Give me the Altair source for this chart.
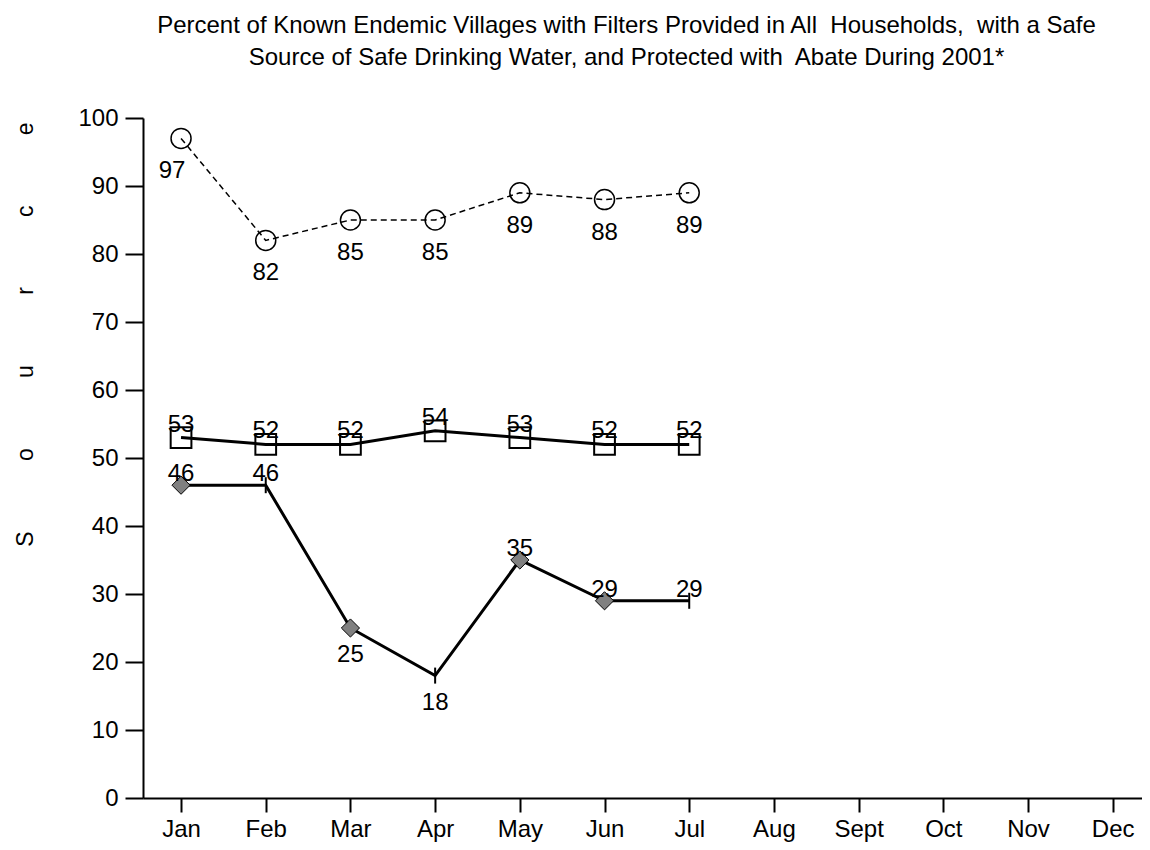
import altair as alt
import pandas as pd

months = ["Jan", "Feb", "Mar", "Apr", "May", "Jun", "Jul", "Aug", "Sept", "Oct", "Nov", "Dec"]
reported = ["Jan", "Feb", "Mar", "Apr", "May", "Jun", "Jul"]

safe_source = [97, 82, 85, 85, 89, 88, 89]      # circles, dashed
filters = [53, 52, 52, 54, 53, 52, 52]          # squares, solid
abate = [46, 46, 25, 18, 35, 29, 29]            # diamonds, solid

abate_diamond_months = ["Jan", "Mar", "May", "Jun"]
abate_tick_months = ["Feb", "Apr", "Jul"]
abate_label_below = ["Mar", "Apr"]

title_lines = [
    "Percent of Known Endemic Villages with Filters Provided in All\u00a0 Households,\u00a0 with a Safe",
    "Source of Safe Drinking Water, and Protected with\u00a0 Abate During 2001*",
]
y_title = ("\u00a0" * 11).join(list("Source"))

rows = []
for i, m in enumerate(reported):
    rows.append({"month": m, "idx": i, "series": "safe", "value": safe_source[i]})
    rows.append({"month": m, "idx": i, "series": "filters", "value": filters[i]})
    rows.append({"month": m, "idx": i, "series": "abate", "value": abate[i]})
df = pd.DataFrame(rows)

FONT = "Liberation Sans"
FS = 24

x_enc = alt.X(
    "month:O",
    scale=alt.Scale(type="point", domain=months, padding=0.3975, align=0.565),
    axis=alt.Axis(
        title=None, labelAngle=0, grid=False, domainColor="black", domainWidth=2,
        tickColor="black", tickWidth=2, tickSize=14, labelFontSize=FS,
        labelColor="black", labelPadding=24, labelBaseline="alphabetic", labelFont=FONT,
    ),
)
y_enc = alt.Y(
    "value:Q",
    scale=alt.Scale(domain=[0, 100], nice=False, zero=True),
    axis=alt.Axis(
        values=list(range(0, 101, 10)), grid=False, domainColor="black", domainWidth=2,
        tickColor="black", tickWidth=2, tickSize=18, labelFontSize=FS,
        labelColor="black", labelPadding=7, labelFont=FONT,
        title=y_title, titleFont=FONT, titleFontSize=23, titleFontWeight="normal",
        titleColor="black", titleAngle=270, titleX=-118, titleY=216,
        titleAlign="center", titleBaseline="middle",
    ),
)

base = alt.Chart(df).encode(x=x_enc, y=y_enc, order=alt.Order("idx:Q"))

safe = base.transform_filter(alt.datum.series == "safe")
filt = base.transform_filter(alt.datum.series == "filters")
ab = base.transform_filter(alt.datum.series == "abate")

safe_line = safe.mark_line(color="black", strokeWidth=1.5, strokeDash=[6, 4])
safe_pts = safe.mark_point(shape="circle", size=400, filled=False, color="black", strokeWidth=1.5, opacity=1)
safe_lbl = safe.transform_filter(alt.datum.month != "Jan").mark_text(
    dy=33, fontSize=FS, font=FONT, color="black", baseline="middle"
).encode(text="value:Q")
safe_lbl_jan = safe.transform_filter(alt.datum.month == "Jan").mark_text(
    dy=33, dx=-9, fontSize=FS, font=FONT, color="black", baseline="middle"
).encode(text="value:Q")

filt_line = filt.mark_line(color="black", strokeWidth=3)
filt_pts = filt.mark_point(shape="square", size=430, filled=False, color="black", strokeWidth=2, opacity=1)
filt_lbl = filt.mark_text(dy=-6, fontSize=FS, font=FONT, color="black", baseline="alphabetic").encode(text="value:Q")

ab_line = ab.mark_line(color="black", strokeWidth=3)
ab_pts = ab.transform_filter(alt.FieldOneOfPredicate(field="month", oneOf=abate_diamond_months)).mark_point(
    shape="diamond", size=330, filled=True, fill="#808080", stroke="black", strokeWidth=1, opacity=1
)
ab_ticks = ab.transform_filter(alt.FieldOneOfPredicate(field="month", oneOf=abate_tick_months)).mark_tick(
    orient="vertical", size=16, thickness=2, color="black", opacity=1
)
ab_lbl_above = ab.transform_filter(
    {"not": alt.FieldOneOfPredicate(field="month", oneOf=abate_label_below)}
).mark_text(dy=-4, fontSize=FS, font=FONT, color="black", baseline="alphabetic").encode(text="value:Q")
ab_lbl_below = ab.transform_filter(alt.FieldOneOfPredicate(field="month", oneOf=abate_label_below)).mark_text(
    dy=27, fontSize=FS, font=FONT, color="black", baseline="middle"
).encode(text="value:Q")

chart = alt.layer(
    safe_line, safe_pts, safe_lbl, safe_lbl_jan,
    filt_line, filt_pts, filt_lbl,
    ab_line, ab_pts, ab_ticks, ab_lbl_above, ab_lbl_below,
).properties(
    width=999,
    height=680,
    title=alt.TitleParams(
        text=title_lines, font=FONT, fontSize=FS, fontWeight="normal", color="black",
        anchor="middle", lineHeight=32, offset=36, dx=-16,
    ),
    autosize=alt.AutoSizeParams(type="none"),
    padding={"left": 135, "top": 110, "right": 0, "bottom": 44},
).configure(font=FONT).configure_view(strokeWidth=0)

chart.save("out.html", embed_options={"renderer": "svg", "actions": False})
